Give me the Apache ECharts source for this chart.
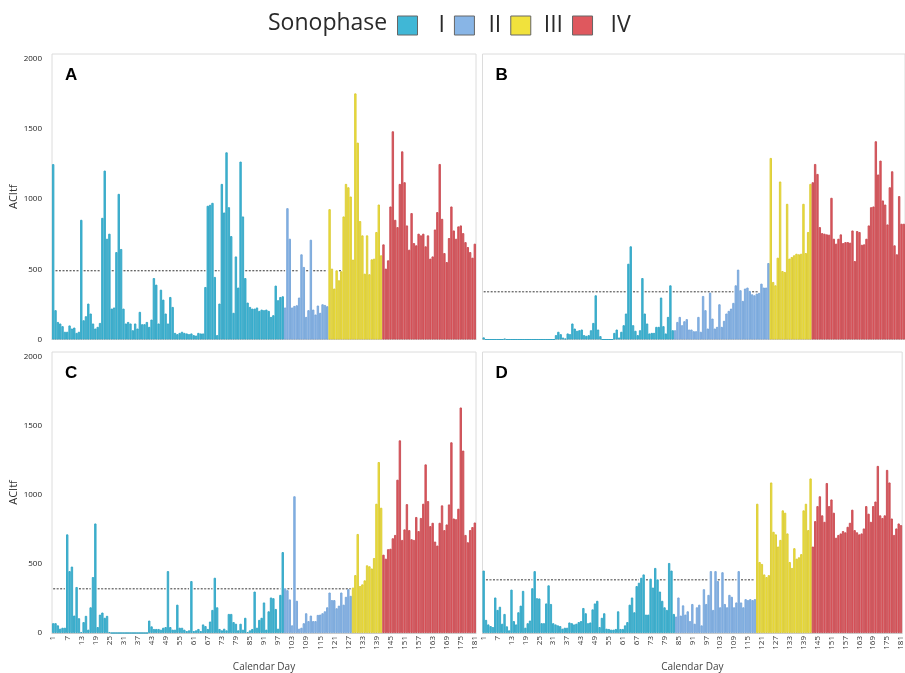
<!DOCTYPE html>
<html>
<head>
<meta charset="utf-8">
<script src="https://cdn.jsdelivr.net/npm/echarts@6/dist/echarts.min.js"></script>
<style>
html, body { margin: 0; padding: 0; background: #fff; }
#chart { width: 905px; height: 673px; }
</style>
</head>
<body>
<div id="chart"></div>
<script>
// calendar days 1..181
const days = Array.from({ length: 181 }, (_, i) => String(i + 1))

const phaseNames = ['I', 'II', 'III', 'IV']
const phaseColors = ['#40b7d6', '#88b5e6', '#f1e23c', '#df585e']
const phaseBorders = ['#32a5c4', '#76a5d9', '#d9c932', '#c84c52']

// first calendar day of each sonophase, per panel
const phaseStartA = [1, 100, 119, 142]
const phaseStartB = [1, 83, 124, 142]
const phaseStartC = [1, 100, 129, 142]
const phaseStartD = [1, 84, 119, 143]

// dashed reference level per panel
const meanLevels = [490, 340, 320, 385]

const acitfA = [
  1250, 209, 125, 114, 95, 55, 55, 100, 78, 85,
  47, 55, 853, 137, 166, 256, 185, 114, 78, 90,
  118, 867, 1204, 718, 754, 220, 228, 623, 1038, 645,
  220, 114, 125, 114, 66, 114, 78, 197, 109, 109,
  125, 90, 142, 438, 391, 114, 355, 284, 185, 114,
  303, 232, 47, 38, 47, 55, 47, 43, 38, 43,
  31, 28, 47, 43, 43, 374, 953, 960, 974, 446,
  31, 256, 1109, 905, 1334, 943, 737, 190, 592, 370,
  1268, 877, 438, 263, 232, 220, 220, 228, 204, 213,
  209, 213, 204, 161, 173, 384, 280, 303, 308, 228,
  936, 718, 228, 239, 244, 299, 607, 517, 161, 209,
  711, 213, 178, 242, 190, 251, 246, 237, 929, 505,
  363, 493, 422, 486, 877, 1109, 1085, 1019, 569, 1754,
  1403, 844, 742, 469, 742, 465, 571, 576, 766, 962,
  600, 678, 505, 564, 948, 1484, 853, 801, 1109, 1341,
  1121, 813, 640, 901, 687, 671, 754, 742, 754, 664,
  742, 576, 592, 784, 908, 1251, 860, 616, 552, 723,
  948, 777, 718, 806, 813, 758, 694, 659, 623, 583, 683
]

const acitfB = [
  15, 0, 0, 0, 0, 0, 0, 0, 0, 5,
  0, 0, 0, 0, 0, 0, 0, 0, 0, 0,
  0, 0, 0, 0, 0, 0, 0, 0, 0, 0,
  0, 31, 55, 38, 14, 7, 43, 38, 114, 78,
  62, 66, 71, 31, 26, 31, 66, 118, 315, 71,
  24, 0, 0, 0, 0, 0, 47, 71, 14, 55,
  102, 185, 540, 664, 102, 62, 31, 66, 438, 185,
  114, 43, 47, 47, 90, 90, 299, 95, 43, 161,
  386, 66, 66, 125, 161, 102, 130, 145, 71, 71,
  59, 59, 161, 55, 310, 209, 78, 334, 149, 78,
  90, 251, 90, 133, 185, 204, 220, 261, 386, 498,
  351, 275, 363, 370, 346, 322, 315, 327, 332, 398,
  370, 370, 545, 1294, 410, 386, 583, 1126, 488, 481,
  967, 576, 588, 600, 611, 607, 611, 967, 616, 766,
  1109, 1121, 1251, 1180, 801, 758, 754, 749, 747, 1010,
  718, 683, 718, 749, 687, 694, 694, 690, 777, 559,
  773, 766, 675, 678, 718, 813, 943, 948, 1413, 1176,
  1275, 991, 962, 820, 1085, 1199, 671, 607, 1022, 825, 825
]

const acitfC = [
  71, 71, 55, 31, 38, 38, 714, 448, 481, 126,
  333, 107, 7, 79, 124, 24, 186, 405, 793, 43,
  133, 148, 110, 124, 7, 0, 0, 0, 0, 0,
  0, 0, 0, 0, 0, 0, 0, 0, 0, 0,
  0, 90, 48, 29, 29, 29, 24, 38, 43, 448,
  43, 24, 24, 205, 38, 38, 24, 14, 19, 376,
  14, 19, 29, 14, 62, 50, 29, 83, 167, 400,
  186, 29, 19, 31, 19, 138, 138, 79, 67, 19,
  67, 24, 110, 7, 19, 29, 300, 38, 95, 110,
  221, 24, 157, 257, 252, 174, 31, 276, 586, 324,
  310, 243, 55, 990, 233, 31, 38, 71, 143, 86,
  126, 86, 86, 131, 133, 143, 157, 186, 293, 238,
  238, 179, 198, 293, 205, 262, 317, 269, 329, 419,
  717, 340, 352, 381, 490, 483, 467, 543, 936, 1238,
  907, 567, 538, 607, 610, 686, 710, 1110, 1395, 674,
  750, 933, 745, 679, 674, 840, 738, 833, 936, 1221,
  955, 774, 798, 662, 633, 798, 924, 745, 786, 931,
  1381, 829, 824, 900, 1633, 1321, 710, 657, 745, 767, 800
]

const acitfD = [
  452, 95, 62, 50, 43, 257, 167, 190, 67, 138,
  48, 19, 314, 86, 62, 150, 198, 305, 38, 71,
  90, 324, 448, 252, 250, 71, 71, 214, 345, 210,
  71, 62, 55, 50, 31, 38, 38, 76, 71, 62,
  67, 79, 86, 181, 143, 71, 76, 171, 214, 233,
  43, 110, 143, 31, 29, 24, 24, 29, 157, 29,
  29, 55, 79, 205, 257, 150, 340, 364, 400, 424,
  133, 133, 393, 329, 471, 388, 300, 233, 186, 167,
  507, 452, 138, 119, 257, 126, 200, 133, 157, 86,
  210, 67, 186, 205, 55, 317, 210, 276, 448, 167,
  448, 376, 186, 440, 210, 186, 276, 262, 186, 221,
  448, 221, 186, 245, 238, 245, 238, 245, 936, 514,
  500, 424, 405, 419, 1090, 733, 714, 626, 674, 888,
  871, 721, 514, 471, 614, 538, 548, 571, 888, 936,
  745, 1119, 626, 810, 919, 990, 852, 805, 1086, 919,
  967, 871, 690, 710, 721, 738, 729, 769, 798, 893,
  745, 729, 714, 721, 757, 919, 864, 805, 919, 952,
  1210, 852, 833, 852, 1181, 1090, 829, 710, 757, 793, 781
]

const panels = [
  { letter: 'A', values: acitfA, starts: phaseStartA },
  { letter: 'B', values: acitfB, starts: phaseStartB },
  { letter: 'C', values: acitfC, starts: phaseStartC },
  { letter: 'D', values: acitfD, starts: phaseStartD }
]

const font = "'Open Sans', 'DejaVu Sans', sans-serif"

const gridBoxes = [
  { left: 52, top: 54, width: 424, height: 285.5 },
  { left: 482.5, top: 54, width: 423, height: 285.5 },
  { left: 52, top: 352, width: 424, height: 286 },
  { left: 482.5, top: 352, width: 423, height: 286 }
]

const phaseOf = (starts, day) => {
  let k = 0
  starts.forEach((s, i) => { if (day >= s) k = i })
  return k
}

const grid = gridBoxes.map(b => ({
  ...b,
  show: true,
  borderColor: '#dcdcdc',
  borderWidth: 1,
  backgroundColor: 'transparent'
}))

const xAxis = panels.map((p, i) => {
  const bottom = i >= 2
  return {
    gridIndex: i,
    type: 'category',
    data: days,
    axisLine: { lineStyle: { color: '#cccccc' } },
    axisTick: { interval: 5, alignWithLabel: true, length: 3, lineStyle: { color: '#999' } },
    axisLabel: bottom
      ? { interval: 5, rotate: 90, fontSize: 8, color: '#333', margin: 3, fontFamily: font }
      : { show: false },
    name: bottom ? 'Calendar Day' : '',
    nameLocation: 'middle',
    nameGap: 29,
    nameTextStyle: { fontSize: 10, color: '#444', fontFamily: font }
  }
})

const yAxis = panels.map((p, i) => {
  const left = i % 2 === 0
  return {
    gridIndex: i,
    type: 'value',
    min: 0,
    max: 2035,
    interval: 500,
    splitLine: { show: false },
    axisLine: { show: false },
    axisTick: { show: false },
    axisLabel: left
      ? {
          formatter: v => (v % 500 === 0 ? String(v) : ''),
          fontSize: 8, color: '#222', margin: 10, fontFamily: font
        }
      : { show: false },
    name: left ? 'ACItf' : '',
    nameLocation: 'middle',
    nameGap: 30,
    nameTextStyle: { fontSize: 11, color: '#333', fontFamily: font }
  }
})

const series = []
panels.forEach((p, i) => {
  // dashed reference level: hidden wherever a bar rises above it
  series.push({
    name: 'level' + p.letter,
    type: 'line',
    xAxisIndex: i,
    yAxisIndex: i,
    z: 1,
    showSymbol: false,
    silent: true,
    connectNulls: false,
    lineStyle: { color: '#333', type: [2, 1.5], width: 1 },
    data: p.values.map(v => (v >= meanLevels[i] ? '-' : meanLevels[i]))
  })
  phaseNames.forEach((name, k) => {
    series.push({
      name: name,
      type: 'bar',
      xAxisIndex: i,
      yAxisIndex: i,
      z: 3,
      stack: 'panel' + i,
      barCategoryGap: '0%',
      itemStyle: { color: phaseColors[k], borderColor: phaseBorders[k], borderWidth: 0.9 },
      emphasis: { disabled: true },
      data: p.values.map((v, d) => (phaseOf(p.starts, d + 1) === k ? v : '-'))
    })
  })
})

const titles = [
  {
    text: 'Sonophase', left: 268, top: 12, padding: 0,
    textStyle: { fontSize: 23, fontWeight: 'normal', color: '#2a2a2a', fontFamily: font }
  }
].concat(panels.map((p, i) => ({
  text: p.letter,
  left: gridBoxes[i].left + 13,
  top: gridBoxes[i].top + 13,
  padding: 0,
  textStyle: { fontSize: 17, fontWeight: 'bold', color: '#000', fontFamily: 'Arial, Liberation Sans, sans-serif' }
})))

const legendPads = [16, 9, 8, 13]

const option = {
  backgroundColor: '#fff',
  animation: false,
  title: titles,
  legend: {
    left: 397,
    top: 14,
    padding: 0,
    icon: 'rect',
    itemWidth: 20,
    itemHeight: 19,
    itemGap: 9,
    selectedMode: false,
    itemStyle: { borderColor: '#666', borderWidth: 1 },
    textStyle: { fontSize: 23, color: '#2a2a2a', fontFamily: font },
    data: phaseNames.map((n, k) => ({ name: n, textStyle: { padding: [0, 0, 0, legendPads[k]] } }))
  },
  grid: grid,
  xAxis: xAxis,
  yAxis: yAxis,
  series: series
}

const myChart = echarts.init(document.getElementById('chart'))
myChart.setOption(option)
</script>
</body>
</html>
